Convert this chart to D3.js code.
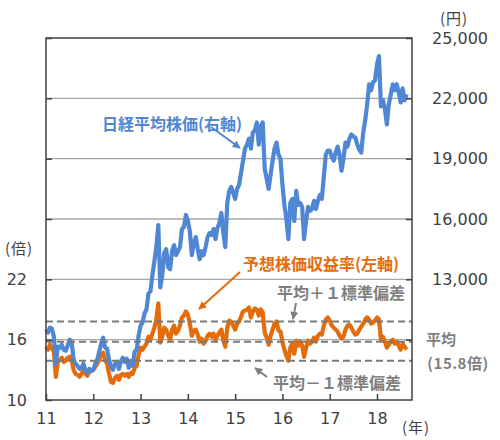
<!DOCTYPE html>
<html><head><meta charset="utf-8">
<script src="https://cdn.jsdelivr.net/npm/d3@7"></script>
<style>
html,body{margin:0;padding:0;background:#fff;}
svg{display:block;}
</style></head>
<body>
<svg id="chart" width="500" height="440"></svg>
<script>
// ---- data (half-month observations, Jan 2011 .. Aug 2018) ----
const startYear = 2011;
const stepsPerYear = 24;
const nikkei = [
 // 2011
 10500,10350,10600,10550,10150,8800,9650,9600,9750,9500,9450,9700,10000,9900,9000,8800,8700,8550,8600,8800,8500,8350,8550,8450,
 // 2012
 8500,8800,9000,9400,9800,10100,9600,9550,9000,8650,8500,8800,8900,8550,8900,9100,8900,9050,8600,8950,8700,9400,9500,10200,
 // 2013
 10700,10850,11300,11500,12300,12400,13200,13900,14600,15700,12600,13200,14300,14500,13600,13500,14400,14700,14200,14400,14600,15500,15600,16200,
 // 2014
 15900,15400,14200,14800,15100,14500,14000,14400,14200,14600,15100,15300,15200,15500,15000,15550,15800,16300,15300,14600,16800,17400,17600,17300,
 // 2015
 17000,17500,17700,18300,18900,19500,19700,20000,19500,20300,20400,20800,19700,20600,20800,18500,18000,17500,18200,18900,19500,19800,19200,19000,
 // 2016
 17700,16700,16000,15000,16800,17000,15900,17400,16700,16800,16600,15000,15900,16600,16400,16500,16900,16500,16900,17200,17000,18100,19200,19400,
 // 2017
 19400,19100,18900,19300,19600,19200,18400,19000,19800,19600,20000,20200,20100,20050,19700,19450,19300,20300,20900,21700,22700,22400,22800,22900,
 // 2018
 23700,24100,21600,21900,21500,20700,21700,22200,22700,22400,22700,22300,21800,22500,21900,22200
];
const per = [
 // 2011
 15.3,15.0,15.5,15.2,14.8,12.3,13.8,14.0,14.2,13.8,13.9,14.2,14.3,14.0,13.0,12.6,12.5,12.3,12.6,13.0,12.6,12.4,12.8,12.9,
 // 2012
 13.0,13.3,13.6,14.0,14.5,14.7,14.0,13.6,12.6,11.8,11.7,12.2,12.4,12.0,12.5,12.6,12.4,12.6,12.3,12.7,12.6,13.2,13.4,14.5,
 // 2013
 15.2,15.0,15.3,15.6,16.3,16.0,16.6,17.2,18.0,19.6,15.7,16.3,17.2,17.0,16.4,16.0,17.0,17.4,16.6,16.9,17.4,18.2,18.4,18.8,
 // 2014
 18.5,17.6,16.4,16.9,17.0,16.5,15.8,16.1,15.6,15.9,16.4,16.6,16.3,16.6,16.0,16.4,16.7,17.0,15.9,15.3,17.2,17.9,17.8,17.4,
 // 2015
 17.0,17.6,17.8,18.3,18.8,18.9,19.0,19.2,18.2,18.8,19.1,19.0,18.4,19.0,18.7,16.7,16.2,15.5,16.4,17.0,17.6,17.8,16.9,16.8,
 // 2016
 15.8,15.0,14.4,13.9,15.2,15.6,14.6,15.9,15.4,15.8,15.4,14.3,15.2,15.9,15.6,15.8,16.2,15.8,16.4,16.6,16.5,17.4,18.0,18.2,
 // 2017
 17.9,17.4,17.2,17.0,16.8,16.4,16.1,16.3,17.0,17.4,17.5,17.2,16.8,16.5,16.6,17.0,17.3,17.6,18.0,18.2,18.0,17.6,17.7,17.9,
 // 2018
 18.2,18.0,16.0,16.3,15.8,15.2,15.5,15.8,16.0,15.6,15.8,15.4,15.0,15.6,15.3,15.0
];
const perMean = 15.8;
const perPlus1 = 17.8;
const perMinus1 = 13.9;
const yearTicks = [2011,2012,2013,2014,2015,2016,2017,2018];
const yearLabels = ["11","12","13","14","15","16","17","18"];
const leftTicks = [10,16,22,28,34,40,46];
const leftLabels = ["10","16","22","","","",""];
const rightTicks = [13000,16000,19000,22000,25000];
const rightTickMarks = [10000,13000,16000,19000,22000,25000];

// ---- layout ----
const L = 46, R = 412, T = 38, B = 400;
const svg = d3.select("#chart");
const blue = "#5087D4", orange = "#E46C0A", gray = "#7f7f7f", axisCol = "#404040";
const numFont = "'DejaVu Sans', Verdana, sans-serif";
const cjkFont = "'Noto Sans CJK JP', 'Noto Sans', sans-serif";

const dates = nikkei.map((_, i) => startYear + i / stepsPerYear);

const x = d3.scaleLinear().domain([2011, 2018.74]).range([L, R]);
const yL = d3.scaleLinear().domain([10, 46]).range([B, T]);
const yR = d3.scaleLinear().domain([7000, 25000]).range([B, T]);

// gridlines
svg.append("g").selectAll("line").data(leftTicks.filter(d => d > 10 && d < 46)).join("line")
  .attr("x1", L).attr("x2", R).attr("y1", d => yL(d)).attr("y2", d => yL(d))
  .attr("stroke", "#a6a6a6").attr("stroke-width", 1.4);

// series
const lineN = d3.line().x((d, i) => x(dates[i])).y(d => yR(d)).curve(d3.curveLinear);
const lineP = d3.line().x((d, i) => x(dates[i])).y(d => yL(d)).curve(d3.curveLinear);

svg.append("path").datum(per).attr("d", lineP).attr("fill", "none")
  .attr("stroke", orange).attr("stroke-width", 4.2).attr("stroke-linejoin", "round");
svg.append("path").datum(nikkei).attr("d", lineN).attr("fill", "none")
  .attr("stroke", blue).attr("stroke-width", 4.2).attr("stroke-linejoin", "round");

// dashed reference lines
svg.append("g").selectAll("line").data([perPlus1, perMean, perMinus1]).join("line")
  .attr("x1", L).attr("x2", R).attr("y1", d => yL(d)).attr("y2", d => yL(d))
  .attr("stroke", "#7a7a7a").attr("stroke-width", 2).attr("stroke-dasharray", "7,4");

// frame
svg.append("rect").attr("x", L).attr("y", T).attr("width", R - L).attr("height", B - T)
  .attr("fill", "none").attr("stroke", axisCol).attr("stroke-width", 1.5);

// axes
const axL = d3.axisLeft(yL).tickValues(leftTicks).tickSizeInner(-6).tickSizeOuter(0).tickPadding(19)
  .tickFormat((d, i) => leftLabels[i]);
const gL = svg.append("g").attr("transform", `translate(${L},0)`).call(axL);
const axR = d3.axisRight(yR).tickValues(rightTickMarks).tickSizeInner(-6).tickSizeOuter(0).tickPadding(20)
  .tickFormat(d => rightTicks.includes(d) ? d3.format(",")(d) : "");
const gR = svg.append("g").attr("transform", `translate(${R},0)`).call(axR);
const axB = d3.axisBottom(x).tickValues(yearTicks).tickSizeInner(-6).tickSizeOuter(0).tickPadding(13)
  .tickFormat((d, i) => yearLabels[i]);
const gB = svg.append("g").attr("transform", `translate(0,${B})`).call(axB);
[gL, gR, gB].forEach(g => {
  g.select(".domain").remove();
  g.selectAll(".tick line").attr("stroke", axisCol).attr("stroke-width", 1.5);
  g.selectAll(".tick text").attr("fill", axisCol).style("font-family", numFont).style("font-size", "16px");
});

// unit labels
const txt = (s, xx, yy, opt = {}) => svg.append("text").text(s).attr("x", xx).attr("y", yy)
  .attr("text-anchor", opt.anchor || "start").attr("dominant-baseline", "central")
  .attr("fill", opt.fill || axisCol).style("font-family", opt.font || cjkFont)
  .style("font-size", (opt.size || 15) + "px").style("font-weight", opt.bold ? "bold" : "normal")
  .style("letter-spacing", (opt.ls || 0) + "px");

txt("(倍)", 19, 247, {anchor: "middle", size: 15, ls: 1});
txt("(円)", 454, 17, {anchor: "middle", size: 15, ls: 1});
txt("(年)", 416, 426, {anchor: "middle", size: 15, ls: 1});

// annotations
txt("日経平均株価(右軸)", 102, 123, {fill: blue, bold: true, size: 16});
txt("予想株価収益率(左軸)", 243, 263, {fill: orange, bold: true, size: 16});
txt("平均＋１標準偏差", 277, 292, {fill: gray, bold: true, size: 16});
txt("平均－１標準偏差", 273, 382, {fill: gray, bold: true, size: 16});
txt("平均", 426, 338, {fill: gray, bold: true, size: 15});
txt("(15.8倍)", 458, 362, {fill: gray, bold: true, size: 15, anchor: "middle", ls: 0.5});

// arrows
const defs = svg.append("defs");
[["aBlue", blue], ["aOrange", orange], ["aGray", gray]].forEach(([id, c]) => {
  defs.append("marker").attr("id", id).attr("viewBox", "0 0 10 10").attr("refX", 9).attr("refY", 5)
    .attr("markerWidth", 4).attr("markerHeight", 4).attr("orient", "auto")
    .append("path").attr("d", "M0,0 L10,5 L0,10 Z").attr("fill", c);
});
const arrow = (x1, y1, x2, y2, c, id) => svg.append("line").attr("x1", x1).attr("y1", y1).attr("x2", x2).attr("y2", y2)
  .attr("stroke", c).attr("stroke-width", 2).attr("marker-end", `url(#${id})`);
arrow(211, 127, 240, 148, blue, "aBlue");
arrow(240, 272, 199, 309, orange, "aOrange");
arrow(296, 303, 293, 319, gray, "aGray");
arrow(267, 377, 255, 368, gray, "aGray");
</script>
</body></html>
